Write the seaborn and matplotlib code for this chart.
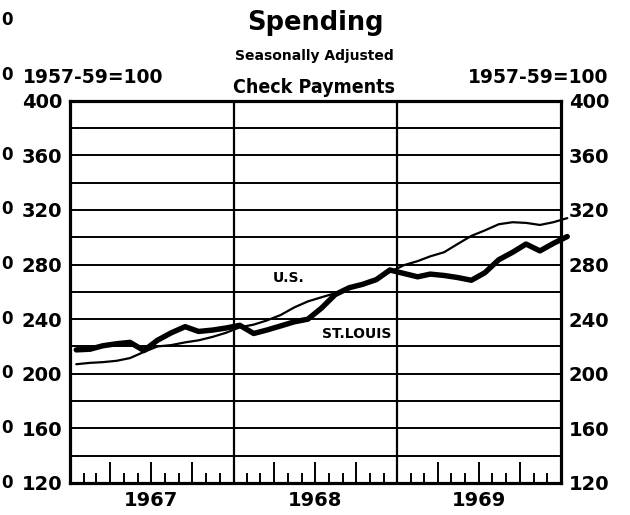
import matplotlib
matplotlib.use("Agg")
import matplotlib.pyplot as plt
import matplotlib.dates as mdates
import matplotlib.transforms as mtransforms
from matplotlib import font_manager
import pandas as pd
import seaborn as sns

# ---- data (monthly, Jan 1967 - Jan 1970, index 1957-59=100) ----
months = pd.date_range("1967-01-01", "1970-01-01", freq="MS") + pd.Timedelta(days=14)
st_louis = [217.5, 218, 220.5, 222, 223, 217, 224.5, 230, 234.5, 231, 232, 233.5,
            235.5, 229.5, 232, 235, 238, 240, 248, 258, 263, 265.5, 269, 276,
            273.5, 271, 273, 272, 270.5, 268.5, 274, 283.5, 289, 295, 290, 295.5,
            300.5]
us = [207, 208, 208.5, 209.5, 211.5, 216, 220, 221, 223, 224.5, 227, 230,
      234, 236, 239, 243, 248.5, 253, 256, 259, 262, 265.5, 269, 274.5,
      279.5, 282.5, 286, 289, 295, 301, 305, 309.5, 311, 310.5, 309, 311,
      314]
years = [1967, 1968, 1969]
y_labels = [120, 160, 200, 240, 280, 320, 360, 400]

sns.set_style("white")
plt.rcParams["font.family"] = ["DejaVu Sans"]
plt.rcParams["font.weight"] = "bold"
for key in ["text.color", "axes.labelcolor", "xtick.color", "ytick.color", "axes.edgecolor"]:
    plt.rcParams[key] = "black"

fonts = font_manager.fontManager.ttflist
installed = {f.name for f in fonts}
if "Liberation Sans Narrow" in installed:
    cp_kw = dict(family=["Liberation Sans Narrow", "DejaVu Sans"], fontsize=16)
elif any(f.name == "DejaVu Sans" and f.stretch == "condensed" for f in fonts):
    cp_kw = dict(family=["DejaVu Sans"], fontstretch="condensed", fontsize=14)
else:
    cp_kw = dict(family=["DejaVu Sans"], fontsize=13)

fig = plt.figure(figsize=(6.3, 5.15), dpi=100)
ax = fig.add_axes([70 / 630, 1 - 483 / 515, 491 / 630, 382.3 / 515])

df = pd.DataFrame({"month": months, "U.S.": us, "St. Louis": st_louis})
sns.lineplot(data=df, x="month", y="U.S.", color="black", lw=1.6, ax=ax)
sns.lineplot(data=df, x="month", y="St. Louis", color="black", lw=3.9, ax=ax)
for ln in ax.lines:
    ln.set_clip_on(False)
    ln.set_solid_joinstyle("round")
    ln.set_solid_capstyle("round")

x0 = pd.Timestamp("1967-01-01")
x1 = pd.Timestamp("1970-01-01")
ax.set_xlim(x0, x1)
ax.set_ylim(120, 400)

ax.set_yticks(y_labels)
ax.set_yticks(list(range(140, 400, 40)), minor=True)
ax.yaxis.grid(True, which="both", color="black", lw=1.4)
ax.set_axisbelow(True)
ax.tick_params(axis="y", which="both", length=0, left=False, right=False,
               labelleft=True, labelright=True, labelsize=14, pad=5.5,
               labelcolor="black")
for lab in ax.get_yticklabels(which="major"):
    lab.set_fontweight("bold")

month_starts = pd.date_range("1967-01-01", "1969-12-01", freq="MS")
quarter = [m for m in month_starts if m.month in (4, 7, 10)]
minor = [m for m in month_starts if m.month not in (1, 4, 7, 10)]
ax.set_xticks(mdates.date2num(quarter))
ax.set_xticks(mdates.date2num(minor), minor=True)
ax.set_xticklabels([])
ax.tick_params(axis="x", which="major", direction="in", length=15, width=1.4,
               bottom=True, top=False, labelbottom=False, color="black")
ax.tick_params(axis="x", which="minor", direction="in", length=7.2, width=1.4,
               bottom=True, top=False, color="black")

for yr in years[1:]:
    ax.axvline(mdates.date2num(pd.Timestamp(f"{yr}-01-01")), color="black", lw=1.6)

for sp in ax.spines.values():
    sp.set_visible(True)
    sp.set_color("black")
    sp.set_linewidth(2.3)

ax.set_xlabel("")
ax.set_ylabel("")

trans = mtransforms.blended_transform_factory(ax.transData, ax.transAxes)
for yr in years:
    ax.text(mdates.date2num(pd.Timestamp(f"{yr}-07-01")), -0.045, str(yr),
            transform=trans, ha="center", va="center", fontsize=14, fontweight="bold")

# series labels
ax.text(mdates.date2num(pd.Timestamp("1968-05-03")), 270.3, "U.S.",
        ha="center", va="center", fontsize=10, fontweight="bold")
ax.text(mdates.date2num(pd.Timestamp("1968-10-03")), 229.3, "ST.LOUIS",
        ha="center", va="center", fontsize=10, fontweight="bold")

# headings
fig.text(315 / 630, 1 - 30 / 515, "Spending", ha="center", va="baseline",
         fontsize=18.5, fontweight="bold")
fig.text(314 / 630, 1 - 60 / 515, "Seasonally Adjusted", ha="center", va="baseline",
         fontsize=10, fontweight="bold")
fig.text(314 / 630, 1 - 93 / 515, "Check Payments", ha="center", va="baseline",
         fontweight="bold", **cp_kw)
fig.text(23 / 630, 1 - 83 / 515, "1957-59=100", ha="left", va="baseline",
         fontsize=13.5, fontweight="bold")
fig.text(608 / 630, 1 - 83 / 515, "1957-59=100", ha="right", va="baseline",
         fontsize=13.5, fontweight="bold")

# labels of the neighbouring chart showing at the left edge
for ypix in [20, 75, 155, 209, 264, 319, 373, 428, 483]:
    fig.text(1 / 630, 1 - ypix / 515, "0", ha="left", va="center",
             fontsize=12, fontweight="bold")

fig.savefig("out.png", dpi=100)
